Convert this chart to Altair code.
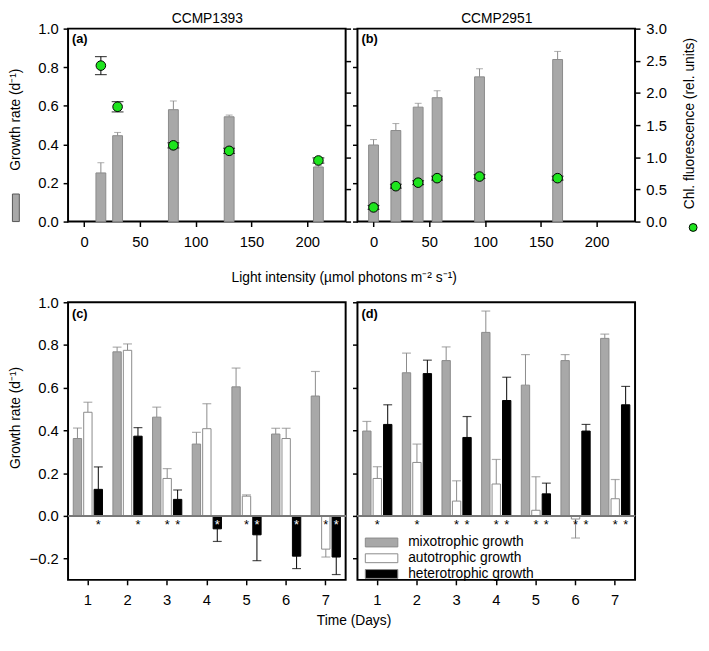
import altair as alt
import pandas as pd

FONT = "Liberation Sans"
GREY = "#a8a8a8"
EDGE = "#8a8a8a"
GREEN = "#1ee41e"

# ---------------- (a) CCMP1393, light response ----------------
A_LIGHT = [15, 30, 80, 130, 210]
A_GROWTH = [0.252, 0.445, 0.580, 0.543, 0.283]
A_GROWTH_SD = [0.053, 0.017, 0.045, 0.009, 0.006]
A_FLUOR = [2.425, 1.785, 1.185, 1.100, 0.950]
A_FLUOR_SD = [0.140, 0.080, 0.040, 0.040, 0.040]

# ---------------- (b) CCMP2951, light response ----------------
B_LIGHT = [0, 20, 40, 57, 95, 165]
B_GROWTH = [0.397, 0.472, 0.593, 0.642, 0.750, 0.840]
B_GROWTH_SD = [0.028, 0.036, 0.020, 0.036, 0.042, 0.042]
B_FLUOR = [0.220, 0.550, 0.605, 0.675, 0.700, 0.675]
B_FLUOR_SD = [0.030, 0.030, 0.030, 0.030, 0.030, 0.030]

# ---------------- (c)/(d) growth over time ----------------
DAYS = [1, 2, 3, 4, 5, 6, 7]
SERIES = ["mixotrophic growth", "autotrophic growth", "heterotrophic growth"]

C_MIXO = [0.362, 0.768, 0.462, 0.336, 0.604, 0.383, 0.561]
C_MIXO_SD = [0.049, 0.022, 0.047, 0.055, 0.088, 0.027, 0.115]
C_AUTO = [0.485, 0.775, 0.175, 0.408, 0.092, 0.362, -0.156]
C_AUTO_SD = [0.047, 0.030, 0.046, 0.117, 0.006, 0.048, 0.037]
C_HET = [0.124, 0.373, 0.077, -0.061, -0.089, -0.189, -0.193]
C_HET_SD = [0.105, 0.040, 0.044, 0.059, 0.121, 0.058, 0.082]
C_STAR_AUTO = [0, 0, 1, 0, 1, 0, 1]
C_STAR_HET = [1, 1, 1, 1, 1, 1, 1]

D_MIXO = [0.397, 0.670, 0.727, 0.859, 0.612, 0.727, 0.831]
D_MIXO_SD = [0.045, 0.092, 0.064, 0.100, 0.143, 0.028, 0.020]
D_AUTO = [0.175, 0.250, 0.069, 0.149, 0.026, -0.015, 0.080]
D_AUTO_SD = [0.055, 0.086, 0.095, 0.115, 0.157, 0.089, 0.090]
D_HET = [0.428, 0.666, 0.367, 0.540, 0.103, 0.397, 0.520]
D_HET_SD = [0.092, 0.063, 0.098, 0.109, 0.050, 0.031, 0.086]
D_STAR_AUTO = [1, 1, 1, 1, 1, 1, 1]
D_STAR_HET = [0, 0, 1, 1, 1, 1, 1]

X_TOP_TITLE = "Light intensity (µmol photons m⁻² s⁻¹)"
X_BOT_TITLE = "Time (Days)"
Y_LEFT_TITLE = "Growth rate (d⁻¹)"
Y_RIGHT_TITLE = "Chl. fluorescence (rel. units)"

PW = 282
TOP_H = 196
BOT_H = 282

HET_EXPR = "datum.series == 'heterotrophic growth'"


def letter(txt, y):
    return alt.Chart(pd.DataFrame({"t": [txt]})).mark_text(
        font=FONT, fontSize=13, fontWeight="bold", align="left", baseline="top"
    ).encode(text="t:N", x=alt.value(4), y=alt.value(y))


def light_panel(light, growth, gsd, fluor, fsd, title, tag, first):
    df = pd.DataFrame({"light": light, "growth": growth, "gsd": gsd,
                       "fluor": fluor, "fsd": fsd})
    base = alt.Chart(df).transform_calculate(
        gtop="datum.growth + datum.gsd",
        flo="datum.fluor - datum.fsd",
        fhi="datum.fluor + datum.fsd",
        kind="'k'",
    )
    xscale = alt.Scale(domain=[-10, 230], nice=False, zero=False)
    xax = dict(values=[0, 50, 100, 150, 200], format="d")
    if first:
        xax.update(title=X_TOP_TITLE, titleX=280, titleY=50)
    else:
        xax.update(title=None)
    x = alt.X("light:Q", scale=xscale, axis=alt.Axis(**xax))

    lax = dict(values=[0, 0.2, 0.4, 0.6, 0.8, 1.0], format=".1f")
    if first:
        lax.update(title=Y_LEFT_TITLE, titleX=-53, titleY=92, titleAngle=270,
                   titleBaseline="middle", titleAlign="center")
    else:
        lax.update(title=None, labels=False)
    ly = alt.Scale(domain=[0, 1], nice=False)

    rax = dict(values=[0, 0.5, 1, 1.5, 2, 2.5, 3], format=".1f", orient="right")
    if first:
        rax.update(title=None, labels=False)
    else:
        rax.update(title=Y_RIGHT_TITLE, titleX=55, titleY=96, titleAngle=270,
                   titleBaseline="middle", titleAlign="center", labelPadding=6)
    ry = alt.Scale(domain=[0, 3], nice=False)

    yg = alt.Y("growth:Q", scale=ly, axis=alt.Axis(**lax))
    if first:
        fill = alt.Fill("kind:N", scale=alt.Scale(domain=["k"], range=[GREY]),
                        legend=alt.Legend(orient="none", legendX=-60, legendY=175,
                                          title=None, labelExpr="''", padding=0,
                                          symbolType="M-1,-4H1V4H-1Z",
                                          symbolSize=49, symbolStrokeColor="#555555",
                                          symbolStrokeWidth=1))
    else:
        fill = alt.value(GREY)
    bars = base.mark_bar(size=10, stroke=EDGE, strokeWidth=1).encode(x=x, y=yg, fill=fill)
    gerr = base.mark_rule(color=EDGE, strokeWidth=1).encode(
        x=x, y=yg, y2="gtop:Q")
    gcap = base.mark_tick(orient="horizontal", size=7, thickness=1, color=EDGE).encode(
        x=x, y=alt.Y("gtop:Q", scale=ly, axis=alt.Axis(**lax)))
    growth_layer = alt.layer(gerr, gcap, bars)

    yf = alt.Y("fluor:Q", scale=ry, axis=alt.Axis(**rax))
    if first:
        pfill = alt.value(GREEN)
    else:
        pfill = alt.Fill("kind:N", scale=alt.Scale(domain=["k"], range=[GREEN]),
                         legend=alt.Legend(orient="none", legendX=334, legendY=195,
                                           title=None, labelExpr="''", padding=0,
                                           labelOffset=0, labelAlign="right",
                                           symbolType="circle", symbolSize=64,
                                           symbolStrokeColor="black",
                                           symbolStrokeWidth=1))
    ferr = base.mark_rule(color="black", strokeWidth=1).encode(x=x, y=yf, y2="fhi:Q")
    ferr2 = base.mark_rule(color="black", strokeWidth=1).encode(x=x, y=yf, y2="flo:Q")
    fcap1 = base.mark_tick(orient="horizontal", size=12, thickness=1.2, color="black").encode(
        x=x, y=alt.Y("fhi:Q", scale=ry, axis=alt.Axis(**rax)))
    fcap2 = base.mark_tick(orient="horizontal", size=12, thickness=1.2, color="black").encode(
        x=x, y=alt.Y("flo:Q", scale=ry, axis=alt.Axis(**rax)))
    pts = base.mark_circle(size=95, stroke="black", strokeWidth=1, opacity=1).encode(
        x=x, y=yf, fill=pfill)
    fl_layer = alt.layer(ferr, ferr2, fcap1, fcap2, pts)

    inner = alt.layer(growth_layer, fl_layer, letter(tag, 5)).resolve_scale(y="independent")

    # strain name shown as a top axis title
    top = alt.Chart(df).mark_point(opacity=0).encode(
        x=alt.X("light:Q", scale=xscale,
                axis=alt.Axis(orient="top", title=title, labels=False, ticks=False,
                              domain=False, titleX=PW / 2, titleY=-6,
                              titleBaseline="alphabetic", titleAlign="center",
                              titleFontSize=14)))
    return alt.layer(inner, top).resolve_scale(x="independent", y="independent").properties(
        width=PW, height=TOP_H)


def long_df(mixo, mixo_sd, auto, auto_sd, het, het_sd):
    rows = []
    for i, d in enumerate(DAYS):
        rows.append((d, SERIES[0], mixo[i], mixo_sd[i]))
        rows.append((d, SERIES[1], auto[i], auto_sd[i]))
        rows.append((d, SERIES[2], het[i], het_sd[i]))
    return pd.DataFrame(rows, columns=["day", "series", "value", "sd"])


def star_df(df, star_auto, star_het):
    rows = []
    for i, d in enumerate(DAYS):
        if star_auto[i]:
            rows.append((d, SERIES[1], "black"))
        if star_het[i]:
            v = df[(df.day == d) & (df.series == SERIES[2])].value.iloc[0]
            rows.append((d, SERIES[2], "white" if v < 0 else "black"))
    return pd.DataFrame(rows, columns=["day", "series", "scol"])


def time_panel(df, stars, tag, first):
    xax = dict(labelAngle=0)
    if first:
        xax.update(title=X_BOT_TITLE, titleX=290, titleY=34)
    else:
        xax.update(title=None)
    x = alt.X("day:O", scale=alt.Scale(paddingInner=0, paddingOuter=0),
              axis=alt.Axis(**xax))
    xo = alt.XOffset("series:N", scale=alt.Scale(domain=SERIES, paddingInner=0.2,
                                                 paddingOuter=0.5))
    yax = dict(values=[-0.2, 0, 0.2, 0.4, 0.6, 0.8, 1.0], format=".1f")
    if first:
        yax.update(title=Y_LEFT_TITLE, titleX=-53, titleY=117, titleAngle=270,
                   titleBaseline="middle", titleAlign="center")
    else:
        yax.update(title=None, labels=False)
    ys = alt.Scale(domain=[-0.3, 1.0], nice=False)
    y = alt.Y("value:Q", scale=ys, axis=alt.Axis(**yax))

    if first:
        fill_legend = None
    else:
        fill_legend = alt.Legend(orient="none", legendX=17.5, legendY=237, title=None,
                                 padding=0, symbolType="M-3.67,-1H3.67V1H-3.67Z",
                                 symbolSize=81, symbolStrokeColor=EDGE,
                                 symbolStrokeWidth=1, labelOffset=20,
                                 labelFont=FONT, labelFontSize=14, labelColor="black",
                                 rowPadding=2)
    fill = alt.Fill("series:N", scale=alt.Scale(domain=SERIES, range=[GREY, "white", "black"]),
                    legend=fill_legend)

    base = alt.Chart(df).transform_calculate(
        end="datum.value >= 0 ? datum.value + datum.sd : datum.value - datum.sd",
        edge=HET_EXPR + " ? 'black' : '" + EDGE + "'",
    )
    edge = alt.Color("edge:N", scale=None)
    zero = alt.Chart(df).mark_rule(color="#7a7a7a", strokeWidth=1).encode(y=alt.datum(0))
    err = base.mark_rule(strokeWidth=1).encode(x=x, xOffset=xo, y=y, y2="end:Q", color=edge)
    cap = base.mark_tick(orient="horizontal", size=9, thickness=1.2).encode(
        x=x, xOffset=xo, y=alt.Y("end:Q", scale=ys, axis=alt.Axis(**yax)), color=edge)
    bars = base.mark_bar(strokeWidth=1).encode(
        x=x, xOffset=xo, y=y, fill=fill, stroke=alt.Stroke("edge:N", scale=None))
    st = alt.Chart(stars).mark_text(text="*", font=FONT, fontSize=13, baseline="top",
                                    dy=3).encode(
        x=x, xOffset=xo, y=alt.datum(0), color=alt.Color("scol:N", scale=None))
    return alt.layer(err, cap, bars, zero, st, letter(tag, 6)).properties(
        width=PW, height=BOT_H)


dfc = long_df(C_MIXO, C_MIXO_SD, C_AUTO, C_AUTO_SD, C_HET, C_HET_SD)
dfd = long_df(D_MIXO, D_MIXO_SD, D_AUTO, D_AUTO_SD, D_HET, D_HET_SD)

pa = light_panel(A_LIGHT, A_GROWTH, A_GROWTH_SD, A_FLUOR, A_FLUOR_SD, "CCMP1393", "(a)", True)
pb = light_panel(B_LIGHT, B_GROWTH, B_GROWTH_SD, B_FLUOR, B_FLUOR_SD, "CCMP2951", "(b)", False)
pc = time_panel(dfc, star_df(dfc, C_STAR_AUTO, C_STAR_HET), "(c)", True)
pd_ = time_panel(dfd, star_df(dfd, D_STAR_AUTO, D_STAR_HET), "(d)", False)

chart = alt.concat(
    pa, pb, pc, pd_, columns=2, bounds="flush",
    spacing=alt.RowColnumber(row=82, column=12),
).resolve_scale(
    fill="independent", stroke="independent", color="independent"
).resolve_legend(
    fill="independent"
).properties(
    padding={"left": 0, "top": -2, "right": 0, "bottom": 0}
).configure_view(
    stroke="black", strokeWidth=2
).configure_axis(
    domain=False, grid=False, tickColor="black", tickWidth=1.5, tickSize=5,
    labelFont=FONT, labelFontSize=15, labelColor="black",
    titleFont=FONT, titleFontSize=14, titleFontWeight="normal", titleColor="black",
).configure_axisX(
    labelPadding=8
).configure_axisY(
    labelPadding=5
).configure_legend(
    labelFont=FONT, labelFontSize=14, labelColor="black"
).configure_text(font=FONT)

chart.save("out.html", embed_options={"renderer": "svg", "actions": False})
